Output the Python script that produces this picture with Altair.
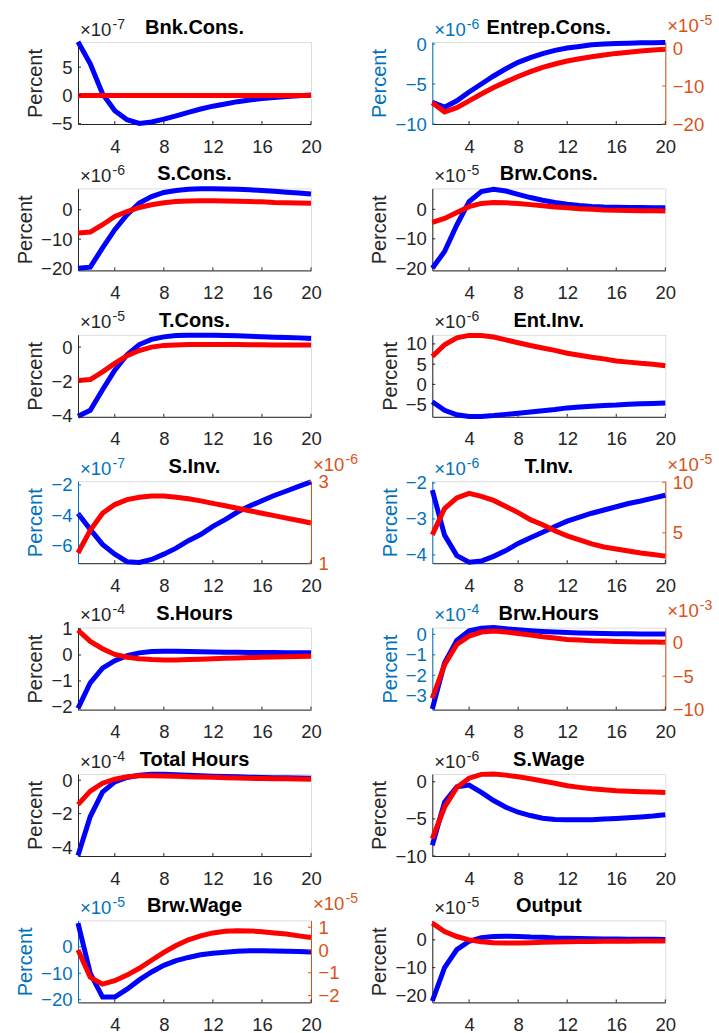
import altair as alt
import pandas as pd

T = list(range(1, 21))

# ---- series (values in units of the panel's exponent) ----
bnk_blue = [9.5, 5.6, 0.3, -2.7, -4.3, -4.95, -4.7, -4.2, -3.6, -3.0, -2.4, -1.9, -1.5, -1.1, -0.8, -0.55, -0.35, -0.2, -0.05, 0.1]
bnk_red = [0.0, 0.0, 0.0, 0.0, 0.0, 0.0, 0.0, 0.0, 0.0, 0.0, 0.0, 0.0, 0.0, 0.0, 0.0, 0.0, 0.0, 0.0, 0.0, 0.0]

entrep_blue = [-7.3, -7.9, -7.1, -6.0, -5.0, -4.0, -3.1, -2.3, -1.7, -1.2, -0.8, -0.5, -0.3, -0.1, 0.0, 0.05, 0.1, 0.15, 0.15, 0.2]
entrep_red = [-14.4, -16.8, -15.7, -13.9, -12.1, -10.4, -8.9, -7.5, -6.2, -5.1, -4.2, -3.4, -2.8, -2.3, -1.8, -1.4, -1.1, -0.8, -0.5, -0.3]

scons_blue = [-20.0, -19.6, -13.0, -6.8, -1.7, 2.3, 4.5, 5.9, 6.6, 7.0, 7.2, 7.2, 7.1, 7.0, 6.8, 6.6, 6.3, 6.0, 5.7, 5.4]
scons_red = [-7.9, -7.6, -5.1, -2.3, -0.6, 0.8, 1.7, 2.4, 2.8, 3.0, 3.1, 3.1, 3.0, 2.9, 2.8, 2.7, 2.5, 2.4, 2.3, 2.2]

brwcons_blue = [-20.0, -14.3, -5.3, 2.6, 6.0, 6.8, 6.2, 5.1, 4.0, 3.1, 2.3, 1.7, 1.3, 1.0, 0.8, 0.7, 0.6, 0.6, 0.5, 0.5]
brwcons_red = [-4.4, -3.1, -1.1, 0.9, 2.0, 2.3, 2.2, 2.0, 1.6, 1.2, 0.8, 0.5, 0.2, 0.0, -0.2, -0.3, -0.4, -0.5, -0.5, -0.6]

tcons_blue = [-4.05, -3.7, -2.5, -1.35, -0.45, 0.15, 0.45, 0.6, 0.68, 0.7, 0.7, 0.7, 0.68, 0.66, 0.63, 0.6, 0.58, 0.56, 0.54, 0.5]
tcons_red = [-1.95, -1.9, -1.45, -0.95, -0.5, -0.2, 0.0, 0.1, 0.13, 0.15, 0.15, 0.15, 0.15, 0.15, 0.14, 0.14, 0.13, 0.13, 0.12, 0.12]

entinv_blue = [-4.3, -6.4, -7.5, -7.9, -7.9, -7.7, -7.4, -7.1, -6.8, -6.5, -6.2, -5.8, -5.6, -5.4, -5.2, -5.1, -4.9, -4.8, -4.7, -4.6]
entinv_red = [6.9, 9.8, 11.5, 12.1, 12.1, 11.7, 11.0, 10.3, 9.6, 9.0, 8.4, 7.7, 7.2, 6.7, 6.3, 5.8, 5.5, 5.2, 5.0, 4.6]

sinv_blue = [-3.9, -4.95, -5.95, -6.6, -7.1, -7.15, -6.95, -6.6, -6.2, -5.7, -5.3, -4.75, -4.3, -3.8, -3.4, -3.05, -2.7, -2.4, -2.1, -1.8]
sinv_red = [1.25, 1.8, 2.22, 2.43, 2.55, 2.61, 2.64, 2.64, 2.61, 2.57, 2.52, 2.46, 2.4, 2.34, 2.28, 2.22, 2.16, 2.1, 2.04, 1.98]

tinv_blue = [-2.2, -3.45, -4.02, -4.2, -4.17, -4.04, -3.88, -3.68, -3.52, -3.37, -3.21, -3.06, -2.95, -2.84, -2.75, -2.66, -2.57, -2.5, -2.42, -2.34]
tinv_red = [4.8, 7.4, 8.45, 8.9, 8.6, 8.2, 7.6, 7.0, 6.3, 5.8, 5.2, 4.7, 4.3, 3.9, 3.6, 3.4, 3.2, 3.0, 2.85, 2.7]

shours_blue = [-2.05, -1.07, -0.51, -0.22, -0.03, 0.08, 0.13, 0.14, 0.14, 0.13, 0.12, 0.11, 0.1, 0.1, 0.09, 0.09, 0.09, 0.08, 0.08, 0.08]
shours_red = [0.95, 0.52, 0.24, 0.02, -0.09, -0.15, -0.18, -0.19, -0.19, -0.18, -0.17, -0.15, -0.13, -0.12, -0.1, -0.09, -0.08, -0.07, -0.06, -0.05]

brwhours_blue = [-3.65, -1.4, -0.3, 0.17, 0.3, 0.33, 0.27, 0.22, 0.18, 0.14, 0.11, 0.09, 0.07, 0.05, 0.04, 0.03, 0.03, 0.02, 0.02, 0.02]
brwhours_red = [-8.3, -3.3, -0.25, 1.0, 1.6, 1.75, 1.6, 1.4, 1.15, 0.9, 0.7, 0.5, 0.4, 0.3, 0.25, 0.2, 0.15, 0.12, 0.1, 0.08]

thours_blue = [-4.5, -2.17, -0.71, -0.1, 0.16, 0.3, 0.35, 0.35, 0.33, 0.3, 0.27, 0.24, 0.22, 0.2, 0.18, 0.16, 0.15, 0.14, 0.13, 0.12]
thours_red = [-1.46, -0.65, -0.18, 0.06, 0.2, 0.26, 0.26, 0.25, 0.23, 0.21, 0.19, 0.17, 0.15, 0.13, 0.11, 0.1, 0.09, 0.08, 0.07, 0.06]

swage_blue = [-8.55, -2.75, -0.67, -0.45, -1.43, -2.53, -3.43, -4.1, -4.55, -4.9, -5.08, -5.12, -5.12, -5.1, -5.03, -4.95, -4.85, -4.75, -4.62, -4.45]
swage_red = [-7.65, -3.43, -0.76, 0.48, 1.0, 1.05, 0.9, 0.67, 0.4, 0.1, -0.2, -0.53, -0.75, -0.95, -1.07, -1.2, -1.28, -1.33, -1.38, -1.43]

brwwage_blue = [9.0, -10.0, -19.0, -19.0, -16.0, -12.5, -9.5, -7.0, -5.2, -4.0, -3.0, -2.4, -2.0, -1.7, -1.5, -1.5, -1.6, -1.7, -1.8, -1.9]
brwwage_red = [0.0, -1.2, -1.5, -1.35, -1.1, -0.8, -0.45, -0.1, 0.2, 0.45, 0.62, 0.75, 0.82, 0.85, 0.84, 0.8, 0.75, 0.7, 0.62, 0.55]

output_blue = [-22.0, -10.0, -3.5, -0.5, 0.8, 1.2, 1.3, 1.2, 1.0, 0.9, 0.7, 0.6, 0.5, 0.4, 0.3, 0.3, 0.2, 0.2, 0.2, 0.1]
output_red = [6.0, 3.0, 1.2, 0.0, -0.7, -1.0, -1.1, -1.1, -1.0, -0.9, -0.8, -0.7, -0.6, -0.6, -0.5, -0.5, -0.5, -0.4, -0.4, -0.4]

x_ticks = [4, 8, 12, 16, 20]

FONT = "Liberation Sans"
BLUE_LINE = "#0000FF"
RED_LINE = "#FF0000"
AX = "#262626"
LBLUE = "#0072BD"
RORANGE = "#D95319"
W, H = 233, 82
TICK_FS = 18.5


def exponent(sup, col, x0, base_y, sup_dy):
    one = pd.DataFrame({"a": [0]})
    main = alt.Chart(one).mark_text(text="\u00d710", align="left", baseline="alphabetic",
                                    fontSize=TICK_FS, color=col, font=FONT).encode(
        x=alt.value(x0), y=alt.value(base_y))
    s = alt.Chart(one).mark_text(text=sup, align="left", baseline="alphabetic",
                                 fontSize=14, color=col, font=FONT).encode(
        x=alt.value(x0 + 32.5), y=alt.value(base_y - sup_dy))
    return [main, s]


def panel(title, blue, red, lexp, ldom, lticks, rexp=None, rdom=None, rticks=None):
    dual = rexp is not None
    df = pd.DataFrame({"t": T, "blue": blue, "red": red})
    xs = alt.Scale(domain=[1, 20], nice=False, zero=False)
    lcol = LBLUE if dual else AX
    ls = alt.Scale(domain=ldom, nice=False, zero=False)
    xaxis = alt.Axis(values=x_ticks, title=None, grid=False, ticks=False, tickSize=0,
                     labelPadding=13, labelFontSize=TICK_FS, labelColor=AX, domainColor=AX,
                     labelFlush=False, labelOverlap=False, labelFont=FONT, format="d")
    laxis = alt.Axis(values=lticks, title="Percent", grid=False, ticks=False, tickSize=0,
                     labelPadding=6, labelFontSize=TICK_FS, labelColor=lcol, domainColor=lcol,
                     titleColor=lcol, titleFontSize=20, titleFontWeight="normal", titlePadding=5,
                     titleFont=FONT, labelFont=FONT, labelFlush=False, labelOverlap=False,
                     format="d")
    X = alt.X("t:Q", scale=xs, axis=xaxis)
    base = alt.Chart(df)
    layers = []
    layers.append(base.mark_line(color=BLUE_LINE, strokeWidth=5).encode(
        x=X, y=alt.Y("blue:Q", scale=ls, axis=laxis)))
    if dual:
        rs = alt.Scale(domain=rdom, nice=False, zero=False)
        raxis = alt.Axis(values=rticks, orient="right", title=None, grid=False, ticks=False,
                         tickSize=0, labelPadding=7, labelFontSize=TICK_FS, labelColor=RORANGE,
                         domainColor=RORANGE, labelFont=FONT, labelFlush=False, labelOverlap=False,
                         format="d")
        layers.append(base.mark_line(color=RED_LINE, strokeWidth=5).encode(
            x=X, y=alt.Y("red:Q", scale=rs, axis=raxis)))
    else:
        layers.append(base.mark_line(color=RED_LINE, strokeWidth=5).encode(
            x=X, y=alt.Y("red:Q", scale=ls, axis=laxis)))
    # inward tick marks
    layers.append(alt.Chart(pd.DataFrame({"t": x_ticks})).mark_rule(color=AX, strokeWidth=1).encode(
        x=X, y=alt.value(H), y2=alt.value(H - 3)))
    layers.append(alt.Chart(pd.DataFrame({"v": lticks})).mark_rule(color=lcol, strokeWidth=1).encode(
        y=alt.Y("v:Q", scale=ls, axis=(None if dual else laxis)), x=alt.value(0), x2=alt.value(3)))
    if dual:
        layers.append(alt.Chart(pd.DataFrame({"v": rticks})).mark_rule(color=RORANGE, strokeWidth=1).encode(
            y=alt.Y("v:Q", scale=rs, axis=None), x=alt.value(W - 3), x2=alt.value(W)))
    # exponent labels
    layers += exponent(lexp, lcol, 2, -6.5, 7)
    if dual:
        layers += exponent(rexp, RORANGE, W + 2, -10.5, 7)
    # title
    layers.append(alt.Chart(pd.DataFrame({"a": [0]})).mark_text(
        text=title, align="center", baseline="alphabetic", fontSize=20, fontWeight="bold",
        color="#000000", font=FONT).encode(x=alt.value(W / 2), y=alt.value(-8)))
    ch = alt.layer(*layers).properties(width=W, height=H)
    if dual:
        ch = ch.resolve_scale(y="independent")
    return ch


panels = [
    panel("Bnk.Cons.", bnk_blue, bnk_red, "-7", [-5.05, 9.45], [-5, 0, 5]),
    panel("Entrep.Cons.", entrep_blue, entrep_red, "-6", [-10, 0.25], [-10, -5, 0],
          "-5", [-20, 1.6], [-20, -10, 0]),
    panel("S.Cons.", scons_blue, scons_red, "-6", [-20.7, 7.3], [-20, -10, 0]),
    panel("Brw.Cons.", brwcons_blue, brwcons_red, "-5", [-20.7, 7.1], [-20, -10, 0]),
    panel("T.Cons.", tcons_blue, tcons_red, "-5", [-4.08, 0.72], [-4, -2, 0]),
    panel("Ent.Inv.", entinv_blue, entinv_red, "-6", [-8, 12.25], [-5, 0, 5, 10]),
    panel("S.Inv.", sinv_blue, sinv_red, "-7", [-7.2, -1.75], [-6, -4, -2],
          "-6", [1, 3], [1, 2, 3]),
    panel("T.Inv.", tinv_blue, tinv_red, "-6", [-4.23, -1.95], [-4, -3, -2],
          "-5", [2.0, 10.1], [5, 10]),
    panel("S.Hours", shours_blue, shours_red, "-4", [-2.1, 1.05], [-2, -1, 0, 1]),
    panel("Brw.Hours", brwhours_blue, brwhours_red, "-4", [-3.68, 0.33], [-3, -2, -1, 0],
          "-3", [-10, 2.27], [-10, -5, 0]),
    panel("Total Hours", thours_blue, thours_red, "-4", [-4.53, 0.37], [-4, -2, 0]),
    panel("S.Wage", swage_blue, swage_red, "-6", [-10, 1.05], [-10, -5, 0]),
    panel("Brw.Wage", brwwage_blue, brwwage_red, "-5", [-21, 10], [-20, -10, 0],
          "-5", [-2.3, 1.3], [-2, -1, 0, 1]),
    panel("Output", output_blue, output_red, "-5", [-22.5, 7], [-20, -10, 0]),
]

chart = alt.concat(
    *panels, columns=2, spacing={"row": 64.4, "column": 121.3}, bounds="flush"
).properties(
    padding={"left": 15, "top": 13, "right": 5, "bottom": 5},
    background="white"
).configure_view(stroke=None).configure(font=FONT)

chart.save("out.html", embed_options={"renderer": "svg", "actions": False})
